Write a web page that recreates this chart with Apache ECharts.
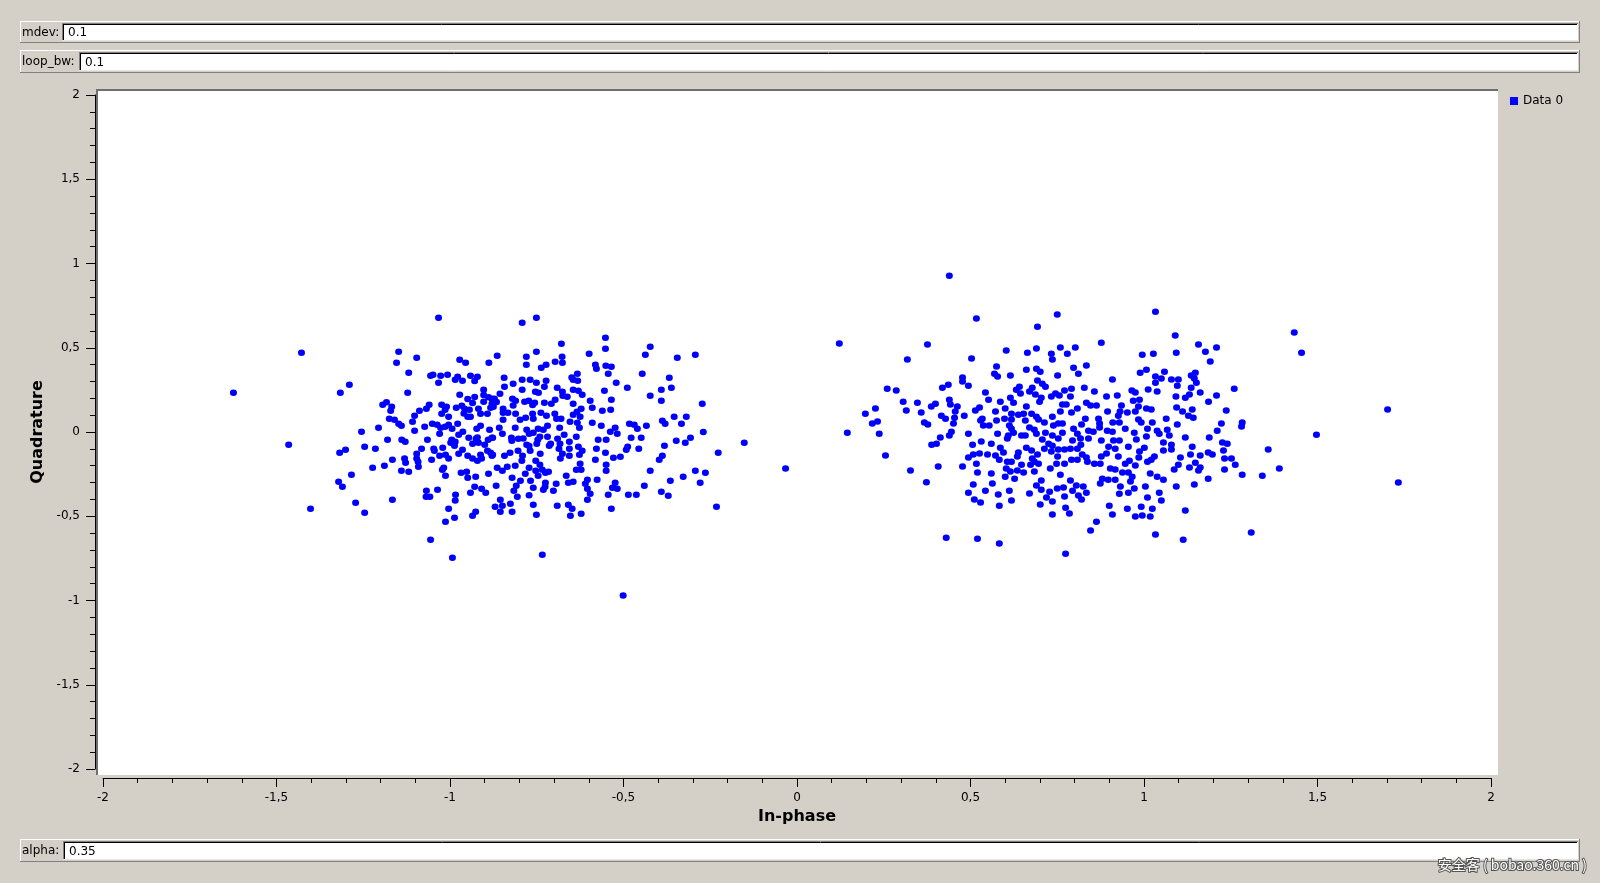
<!DOCTYPE html>
<html><head><meta charset="utf-8">
<script src="https://cdn.jsdelivr.net/npm/echarts@6/dist/echarts.min.js"></script>
<style>html,body{margin:0;padding:0;background:#d4d0c8;}#c{width:1600px;height:883px;}</style>
</head><body><div id="c"></div>
<script>
// ---- data (I = in-phase, Q = quadrature) ----
const seriesName = 'Data 0';
const xAxisTitle = 'In-phase';
const yAxisTitle = 'Quadrature';
const axisMin = -2, axisMax = 2, axisStep = 0.5;
const controlLabels = ['mdev:', 'loop_bw:', 'alpha:'];
const controlValues = ['0.1', '0.1', '0.35'];
const watermark = '安全客 ( bobao.360.cn )';

const leftOuter = [[-1.033,0.678],[-1.428,0.470],[-1.148,0.476],[-1.096,0.441],[-1.154,0.411],[-0.972,0.429],[-0.955,0.411],[-0.888,0.411],[-1.119,0.352],[-1.056,0.334],[-1.049,0.340],[-1.027,0.334],[-1.007,0.340],[-1.033,0.293],[-0.978,0.328],[-0.985,0.310],[-0.964,0.304],[-0.941,0.334],[-0.921,0.328],[-0.929,0.302],[-1.624,0.233],[-1.316,0.233],[-1.290,0.281],[-1.122,0.233],[-0.903,0.251],[-0.972,0.221],[-0.949,0.196],[-0.929,0.207],[-0.903,0.219],[-0.889,0.206],[-0.879,0.198],[-0.903,0.180],[-0.935,0.172],[-1.194,0.162],[-1.183,0.176],[-1.168,0.150],[-1.171,0.126],[-1.060,0.162],[-1.068,0.138],[-1.088,0.126],[-1.102,0.097],[-1.024,0.162],[-1.010,0.150],[-1.014,0.132],[-1.024,0.108],[-1.004,0.091],[-0.982,0.144],[-0.966,0.156],[-0.958,0.138],[-0.944,0.132],[-0.960,0.110],[-0.949,0.091],[-0.941,0.091],[-0.918,0.138],[-0.912,0.108],[-0.892,0.108],[-0.883,0.144],[-0.879,0.168],[-1.175,0.079],[-1.160,0.073],[-1.148,0.049],[-1.140,0.037],[-1.108,0.061],[-1.206,0.025],[-1.255,0.002],[-1.102,0.008],[-1.073,0.031],[-1.051,0.049],[-1.037,0.043],[-1.027,0.025],[-1.030,-0.010],[-1.014,0.031],[-1.004,0.043],[-0.994,0.019],[-0.978,0.049],[-0.963,0.002],[-0.975,-0.016],[-0.946,-0.034],[-0.923,0.019],[-0.912,0.037],[-0.886,0.014],[-0.925,-0.040],[-0.935,-0.070],[-0.918,-0.064],[-0.900,-0.075],[-0.890,-0.046],[-0.879,-0.034],[-1.465,-0.075],[-1.180,-0.046],[-1.139,-0.046],[-1.129,-0.058],[-1.065,-0.046],[-0.995,-0.046],[-0.998,-0.064],[-0.987,-0.081],[-0.985,-0.058],[-1.246,-0.087],[-1.215,-0.099],[-1.301,-0.105],[-1.318,-0.123],[-1.082,-0.099],[-1.047,-0.099],[-1.021,-0.093],[-1.045,-0.111],[-1.030,-0.141],[-1.013,-0.135],[-1.004,-0.158],[-0.975,-0.129],[-0.964,-0.105],[-0.949,-0.141],[-0.935,-0.158],[-0.921,-0.170],[-0.909,-0.158],[-0.912,-0.135],[-0.892,-0.111],[-0.879,-0.141],[-1.096,-0.129],[-1.096,-0.158],[-1.092,-0.176],[-1.131,-0.158],[-1.128,-0.182],[-1.091,-0.206],[-1.166,-0.164],[-1.189,-0.200],[-1.223,-0.212],[-1.053,-0.164],[-1.018,-0.212],[-1.022,-0.224],[-1.140,-0.230],[-1.119,-0.236],[-1.013,-0.259],[-0.968,-0.242],[-0.952,-0.236],[-0.949,-0.271],[-0.926,-0.265],[-0.889,-0.248],[-1.284,-0.254],[-1.321,-0.295],[-1.310,-0.325],[-1.272,-0.420],[-1.246,-0.479],[-1.402,-0.455],[-1.166,-0.402],[-1.068,-0.348],[-1.069,-0.384],[-1.058,-0.384],[-1.036,-0.342],[-0.984,-0.372],[-0.985,-0.406],[-1.004,-0.455],[-1.013,-0.532],[-0.987,-0.509],[-0.941,-0.360],[-0.929,-0.325],[-0.909,-0.337],[-0.897,-0.360],[-0.926,-0.473],[-0.935,-0.497],[-1.056,-0.639],[-0.993,-0.746],[-0.883,-0.123],[-0.921,-0.032]];

const leftInner = [[-0.751,0.678],[-0.792,0.649],[-0.552,0.559],[-0.552,0.494],[-0.679,0.524],[-0.751,0.476],[-0.780,0.447],[-0.780,0.399],[-0.864,0.453],[-0.677,0.447],[-0.697,0.417],[-0.676,0.411],[-0.723,0.399],[-0.737,0.381],[-0.599,0.465],[-0.581,0.399],[-0.578,0.376],[-0.551,0.393],[-0.535,0.387],[-0.544,0.346],[-0.423,0.506],[-0.437,0.459],[-0.345,0.441],[-0.293,0.459],[-0.446,0.346],[-0.368,0.322],[-0.362,0.263],[-0.391,0.251],[-0.423,0.215],[-0.391,0.186],[-0.273,0.168],[-0.489,0.263],[-0.521,0.292],[-0.555,0.245],[-0.535,0.192],[-0.537,0.132],[-0.561,0.126],[-0.844,0.322],[-0.818,0.287],[-0.792,0.310],[-0.769,0.310],[-0.751,0.292],[-0.723,0.304],[-0.728,0.269],[-0.843,0.269],[-0.792,0.251],[-0.754,0.239],[-0.745,0.233],[-0.691,0.263],[-0.676,0.239],[-0.649,0.324],[-0.633,0.346],[-0.645,0.310],[-0.632,0.304],[-0.645,0.251],[-0.630,0.245],[-0.619,0.221],[-0.662,0.209],[-0.675,0.215],[-0.697,0.192],[-0.856,0.227],[-0.872,0.198],[-0.866,0.178],[-0.875,0.150],[-0.847,0.138],[-0.820,0.198],[-0.811,0.186],[-0.785,0.180],[-0.818,0.158],[-0.756,0.174],[-0.762,0.160],[-0.728,0.174],[-0.708,0.168],[-0.645,0.168],[-0.596,0.186],[-0.590,0.144],[-0.622,0.138],[-0.634,0.120],[-0.645,0.103],[-0.625,0.091],[-0.654,0.061],[-0.633,0.055],[-0.627,0.025],[-0.590,0.055],[-0.564,0.037],[-0.538,0.002],[-0.524,0.025],[-0.518,-0.010],[-0.483,0.049],[-0.469,0.043],[-0.460,0.019],[-0.434,0.037],[-0.478,-0.034],[-0.449,-0.034],[-0.550,-0.046],[-0.573,-0.046],[-0.636,-0.028],[-0.671,-0.016],[-0.847,0.114],[-0.833,0.114],[-0.811,0.108],[-0.798,0.073],[-0.847,0.073],[-0.858,0.025],[-0.849,-0.010],[-0.877,-0.034],[-0.812,0.025],[-0.779,0.014],[-0.762,0.108],[-0.760,0.079],[-0.782,0.085],[-0.738,0.114],[-0.722,0.097],[-0.698,0.108],[-0.693,0.079],[-0.680,0.079],[-0.684,0.025],[-0.719,0.037],[-0.731,0.014],[-0.746,0.019],[-0.760,-0.004],[-0.741,-0.028],[-0.719,-0.028],[-0.772,-0.010],[-0.789,-0.038],[-0.803,-0.040],[-0.823,-0.034],[-0.822,-0.052],[-0.779,-0.075],[-0.772,-0.083],[-0.750,-0.070],[-0.747,-0.046],[-0.710,-0.070],[-0.714,-0.081],[-0.690,-0.040],[-0.683,-0.070],[-0.686,-0.099],[-0.656,-0.058],[-0.656,-0.099],[-0.630,-0.087],[-0.619,-0.111],[-0.627,-0.135],[-0.656,-0.141],[-0.676,-0.129],[-0.682,-0.158],[-0.740,-0.129],[-0.769,-0.111],[-0.804,-0.111],[-0.791,-0.141],[-0.793,-0.170],[-0.827,-0.123],[-0.843,-0.141],[-0.877,-0.135],[-0.864,-0.212],[-0.849,-0.230],[-0.835,-0.206],[-0.812,-0.200],[-0.783,-0.248],[-0.772,-0.212],[-0.753,-0.170],[-0.741,-0.194],[-0.753,-0.230],[-0.746,-0.259],[-0.734,-0.224],[-0.725,-0.242],[-0.716,-0.236],[-0.665,-0.259],[-0.625,-0.188],[-0.636,-0.224],[-0.622,-0.224],[-0.581,-0.164],[-0.578,-0.099],[-0.552,-0.123],[-0.550,-0.194],[-0.550,-0.230],[-0.529,-0.153],[-0.509,-0.147],[-0.492,-0.105],[-0.488,-0.087],[-0.456,-0.099],[-0.382,-0.081],[-0.388,-0.141],[-0.397,-0.164],[-0.423,-0.230],[-0.440,-0.319],[-0.365,-0.289],[-0.328,-0.265],[-0.293,-0.230],[-0.264,-0.242],[-0.279,-0.301],[-0.391,-0.354],[-0.371,-0.378],[-0.463,-0.372],[-0.486,-0.372],[-0.544,-0.372],[-0.524,-0.301],[-0.532,-0.331],[-0.518,-0.337],[-0.576,-0.283],[-0.604,-0.283],[-0.610,-0.307],[-0.604,-0.337],[-0.596,-0.366],[-0.604,-0.402],[-0.645,-0.295],[-0.659,-0.301],[-0.694,-0.307],[-0.725,-0.301],[-0.726,-0.325],[-0.731,-0.343],[-0.702,-0.348],[-0.760,-0.331],[-0.768,-0.289],[-0.797,-0.289],[-0.821,-0.271],[-0.809,-0.319],[-0.816,-0.348],[-0.806,-0.384],[-0.772,-0.376],[-0.867,-0.319],[-0.855,-0.402],[-0.870,-0.443],[-0.849,-0.437],[-0.855,-0.473],[-0.826,-0.426],[-0.821,-0.473],[-0.760,-0.432],[-0.751,-0.491],[-0.691,-0.437],[-0.659,-0.432],[-0.648,-0.455],[-0.622,-0.485],[-0.653,-0.497],[-0.535,-0.455],[-0.232,-0.443],[-0.734,-0.728],[-0.501,-0.971],[-0.227,-0.123],[-0.152,-0.064],[-0.270,0.000],[-0.307,-0.034],[-0.322,-0.064],[-0.348,-0.052],[-0.319,0.091],[-0.333,0.049],[-0.354,0.091],[-0.388,0.067],[-0.380,0.049],[-0.773,0.186]];

const middlePoints = [[-0.033,-0.216]];

const rightInner = [[0.439,0.928],[0.517,0.673],[0.750,0.697],[0.693,0.625],[0.122,0.525],[0.376,0.519],[0.877,0.530],[0.318,0.430],[0.503,0.436],[0.603,0.483],[0.664,0.471],[0.690,0.495],[0.733,0.465],[0.759,0.501],[0.779,0.465],[0.802,0.501],[0.736,0.430],[0.575,0.388],[0.569,0.346],[0.578,0.329],[0.615,0.335],[0.661,0.370],[0.690,0.376],[0.701,0.358],[0.693,0.305],[0.707,0.287],[0.716,0.269],[0.751,0.335],[0.797,0.382],[0.834,0.394],[0.811,0.346],[0.260,0.257],[0.286,0.246],[0.419,0.263],[0.436,0.281],[0.477,0.323],[0.477,0.299],[0.494,0.275],[0.226,0.139],[0.197,0.109],[0.217,0.050],[0.232,0.062],[0.237,-0.010],[0.145,-0.004],[0.255,-0.140],[0.306,0.180],[0.315,0.127],[0.347,0.174],[0.358,0.115],[0.367,0.056],[0.377,0.044],[0.387,0.151],[0.399,0.168],[0.416,0.097],[0.428,0.079],[0.439,0.192],[0.442,0.163],[0.456,0.121],[0.462,0.151],[0.454,0.085],[0.451,0.050],[0.445,0.002],[0.439,-0.021],[0.413,-0.033],[0.402,-0.069],[0.388,-0.075],[0.482,0.097],[0.494,-0.010],[0.514,0.127],[0.526,0.145],[0.543,0.234],[0.552,0.192],[0.586,0.180],[0.615,0.204],[0.624,0.174],[0.632,0.251],[0.641,0.269],[0.644,0.228],[0.678,0.263],[0.670,0.240],[0.687,0.222],[0.704,0.204],[0.699,0.180],[0.733,0.210],[0.745,0.228],[0.756,0.216],[0.771,0.246],[0.791,0.257],[0.788,0.210],[0.828,0.263],[0.857,0.240],[0.892,0.210],[0.765,0.163],[0.776,0.163],[0.808,0.139],[0.834,0.174],[0.846,0.157],[0.863,0.157],[0.791,0.115],[0.759,0.121],[0.736,0.091],[0.661,0.151],[0.600,0.139],[0.572,0.121],[0.598,0.079],[0.618,0.074],[0.618,0.109],[0.638,0.103],[0.653,0.109],[0.658,0.068],[0.676,0.109],[0.690,0.091],[0.696,0.074],[0.713,0.056],[0.534,0.079],[0.529,0.068],[0.537,0.038],[0.554,0.038],[0.575,0.068],[0.578,-0.010],[0.612,0.038],[0.618,0.020],[0.624,-0.004],[0.609,-0.021],[0.606,-0.039],[0.647,-0.021],[0.658,-0.021],[0.670,0.026],[0.684,0.014],[0.690,-0.010],[0.716,-0.004],[0.739,0.038],[0.753,0.050],[0.765,0.050],[0.765,-0.004],[0.736,-0.021],[0.753,-0.039],[0.797,0.020],[0.808,-0.010],[0.820,0.044],[0.831,0.079],[0.840,0.008],[0.854,0.002],[0.869,0.079],[0.872,0.050],[0.872,0.026],[0.895,0.121],[0.894,0.008],[0.877,-0.051],[0.840,-0.039],[0.817,-0.039],[0.794,-0.051],[0.818,-0.075],[0.808,-0.099],[0.788,-0.099],[0.771,-0.104],[0.753,-0.104],[0.733,-0.116],[0.736,-0.081],[0.725,-0.069],[0.707,-0.045],[0.751,-0.146],[0.748,-0.188],[0.771,-0.188],[0.791,-0.164],[0.808,-0.164],[0.822,-0.134],[0.834,-0.152],[0.837,-0.176],[0.857,-0.188],[0.874,-0.188],[0.877,-0.146],[0.892,-0.128],[0.898,-0.087],[0.903,-0.217],[0.880,-0.277],[0.874,-0.306],[0.897,-0.283],[0.730,-0.217],[0.759,-0.253],[0.788,-0.288],[0.704,-0.288],[0.690,-0.318],[0.704,-0.342],[0.728,-0.354],[0.750,-0.336],[0.768,-0.330],[0.794,-0.348],[0.805,-0.318],[0.825,-0.324],[0.834,-0.360],[0.811,-0.377],[0.820,-0.401],[0.771,-0.383],[0.736,-0.413],[0.719,-0.389],[0.701,-0.431],[0.736,-0.490],[0.774,-0.449],[0.785,-0.484],[0.900,-0.437],[0.863,-0.532],[0.846,-0.585],[0.774,-0.722],[0.430,-0.627],[0.520,-0.633],[0.583,-0.662],[0.373,-0.298],[0.327,-0.229],[0.407,-0.205],[0.477,-0.205],[0.494,-0.152],[0.508,-0.134],[0.526,-0.128],[0.517,-0.188],[0.520,-0.241],[0.508,-0.312],[0.494,-0.360],[0.511,-0.401],[0.529,-0.419],[0.543,-0.348],[0.563,-0.306],[0.560,-0.247],[0.580,-0.371],[0.583,-0.437],[0.612,-0.348],[0.618,-0.407],[0.670,-0.365],[0.627,-0.277],[0.600,-0.265],[0.603,-0.217],[0.615,-0.235],[0.635,-0.229],[0.653,-0.241],[0.684,-0.235],[0.647,-0.194],[0.673,-0.194],[0.684,-0.176],[0.696,-0.188],[0.693,-0.134],[0.678,-0.158],[0.676,-0.110],[0.661,-0.093],[0.638,-0.122],[0.635,-0.146],[0.618,-0.176],[0.606,-0.176],[0.595,-0.122],[0.583,-0.164],[0.572,-0.140],[0.549,-0.134],[0.586,-0.093],[0.560,-0.069],[0.531,-0.057],[0.506,-0.075],[0.713,-0.099]];

const rightOuter = [[1.033,0.714],[1.090,0.572],[1.433,0.590],[1.454,0.471],[1.157,0.519],[1.177,0.477],[1.209,0.501],[1.191,0.418],[0.995,0.459],[1.027,0.465],[1.093,0.471],[1.007,0.370],[0.989,0.352],[1.059,0.358],[1.033,0.329],[1.050,0.317],[1.079,0.311],[1.099,0.311],[1.033,0.293],[1.136,0.335],[1.148,0.352],[1.145,0.317],[1.151,0.293],[1.096,0.275],[1.136,0.263],[0.909,0.311],[1.012,0.252],[1.038,0.240],[0.965,0.246],[0.975,0.234],[0.923,0.216],[0.969,0.186],[0.987,0.192],[1.092,0.210],[1.119,0.204],[1.131,0.222],[1.162,0.234],[1.209,0.216],[1.260,0.257],[1.186,0.180],[1.237,0.127],[0.935,0.157],[0.984,0.151],[1.007,0.139],[1.021,0.133],[1.094,0.145],[1.111,0.121],[1.139,0.133],[1.128,0.097],[1.142,0.085],[1.064,0.079],[0.931,0.121],[0.952,0.115],[0.975,0.121],[0.926,0.097],[0.984,0.074],[0.992,0.056],[1.024,0.056],[0.910,0.056],[0.929,0.056],[0.946,0.020],[0.909,0.002],[0.972,-0.004],[1.010,0.020],[1.038,0.008],[1.044,-0.010],[1.067,0.014],[1.073,-0.021],[1.096,0.044],[1.119,-0.033],[1.188,-0.033],[1.211,0.008],[1.223,0.050],[1.283,0.056],[1.281,0.032],[1.702,0.133],[1.497,-0.016],[1.358,-0.104],[1.390,-0.217],[1.341,-0.259],[1.309,-0.597],[1.733,-0.300],[0.912,-0.051],[0.929,-0.051],[0.917,-0.099],[0.955,-0.087],[0.978,-0.045],[1.007,-0.027],[1.001,-0.093],[0.987,-0.116],[1.056,-0.063],[1.056,-0.110],[1.079,-0.075],[1.079,-0.104],[1.139,-0.087],[1.134,-0.134],[1.162,-0.140],[1.185,-0.122],[1.197,-0.134],[1.226,-0.063],[1.240,-0.069],[1.229,-0.110],[1.232,-0.158],[1.252,-0.158],[1.263,-0.194],[1.232,-0.223],[1.283,-0.253],[1.185,-0.277],[1.145,-0.312],[1.157,-0.229],[1.162,-0.211],[1.131,-0.211],[1.148,-0.182],[1.099,-0.194],[1.087,-0.223],[1.105,-0.152],[1.030,-0.146],[1.021,-0.164],[1.010,-0.176],[0.985,-0.152],[0.975,-0.199],[0.958,-0.170],[0.946,-0.188],[0.926,-0.146],[0.917,-0.223],[0.938,-0.241],[0.955,-0.241],[0.966,-0.265],[0.917,-0.283],[0.961,-0.294],[1.018,-0.247],[1.038,-0.265],[1.056,-0.283],[1.093,-0.324],[1.004,-0.324],[0.972,-0.336],[0.932,-0.324],[0.929,-0.366],[0.955,-0.360],[1.044,-0.360],[1.010,-0.389],[1.050,-0.407],[0.992,-0.443],[0.952,-0.455],[1.024,-0.455],[0.995,-0.496],[0.975,-0.502],[1.018,-0.502],[0.909,-0.490],[1.119,-0.466],[1.033,-0.609],[1.113,-0.639]];

// ---- drawing ----
const FONT = '"DejaVu Sans", sans-serif';
const BG = '#d4d0c8';
const chart = echarts.init(document.getElementById('c'), null, {renderer: 'canvas'});

function entryRow(y0, y1, boxX, label, value) {
  const R = 1580, BR = 1578;
  const h = y1 - y0;
  return [
    {type:'line', silent:true, shape:{x1:20, y1:y0+0.5, x2:R, y2:y0+0.5}, style:{stroke:'#ffffff', lineWidth:1}},
    {type:'line', silent:true, shape:{x1:20.5, y1:y0, x2:20.5, y2:y1}, style:{stroke:'#ffffff', lineWidth:1}},
    {type:'line', silent:true, shape:{x1:20, y1:y1-0.5, x2:R, y2:y1-0.5}, style:{stroke:'#808080', lineWidth:1}},
    {type:'line', silent:true, shape:{x1:R-0.5, y1:y0, x2:R-0.5, y2:y1}, style:{stroke:'#808080', lineWidth:1}},
    {type:'rect', silent:true, shape:{x:boxX, y:y0+2, width:BR-boxX, height:h-4}, style:{fill:'#ffffff'}},
    {type:'line', silent:true, shape:{x1:boxX, y1:y0+2.5, x2:BR, y2:y0+2.5}, style:{stroke:'#808080', lineWidth:1}},
    {type:'line', silent:true, shape:{x1:boxX+0.5, y1:y0+2, x2:boxX+0.5, y2:y1-2}, style:{stroke:'#808080', lineWidth:1}},
    {type:'line', silent:true, shape:{x1:boxX+1, y1:y0+3.5, x2:BR-1, y2:y0+3.5}, style:{stroke:'#000000', lineWidth:1}},
    {type:'line', silent:true, shape:{x1:boxX+1.5, y1:y0+3, x2:boxX+1.5, y2:y1-3}, style:{stroke:'#000000', lineWidth:1}},
    {type:'line', silent:true, shape:{x1:boxX, y1:y1-2.5, x2:BR, y2:y1-2.5}, style:{stroke:'#e8e6e2', lineWidth:1}},
    {type:'text', silent:true, x:22, y:(y0+y1)/2 + 0.5, style:{text:label, font:'12px ' + FONT, fill:'#000', verticalAlign:'middle'}},
    {type:'text', silent:true, x:boxX+6, y:(y0+y1)/2 + 1, style:{text:value, font:'12px ' + FONT, fill:'#000', verticalAlign:'middle'}}
  ];
}

const graphics = [].concat(
  entryRow(21, 43, 62, controlLabels[0], controlValues[0]),
  entryRow(50, 73, 79, controlLabels[1], controlValues[1]),
  entryRow(839, 862, 63, controlLabels[2], controlValues[2]),
  [
    {type:'rect', silent:true, z:-5, shape:{x:96, y:89, width:1402, height:686}, style:{fill:'#ffffff'}},
    {type:'rect', silent:true, z:-4, shape:{x:96, y:89, width:1402, height:2}, style:{fill:'#6e6e6e'}},
    {type:'rect', silent:true, z:-4, shape:{x:96, y:89, width:2, height:686}, style:{fill:'#6e6e6e'}},
    {type:'text', silent:true, z:100, x:1587, y:865, style:{text:watermark, font:'14px "Noto Sans CJK SC", sans-serif', fill:'#ffffff', align:'right', verticalAlign:'middle', stroke:'#555555', lineWidth:2}}
  ]
);

const fmt = v => String(v).replace('.', ',');

const option = {
  backgroundColor: BG,
  animation: false,
  grid: {left:103, right:109, top:95, bottom:114, show:false},
  legend: {
    data: [{name: seriesName, icon: 'rect'}],
    left: 1510, top: 95, padding: 0, itemWidth: 8, itemHeight: 8, itemGap: 0,
    selectedMode: false,
    textStyle: {fontFamily: FONT, fontSize: 12, color: '#000'}
  },
  xAxis: {
    type:'value', min:axisMin, max:axisMax, interval:axisStep, offset:9,
    axisLine:{show:true, onZero:false, lineStyle:{color:'#000', width:1}},
    axisTick:{show:true, length:9, lineStyle:{color:'#000'}},
    minorTick:{show:true, splitNumber:5, length:5, lineStyle:{color:'#000'}},
    splitLine:{show:false}, minorSplitLine:{show:false},
    axisLabel:{formatter:fmt, fontFamily:FONT, fontSize:12, color:'#000', margin:14, showMinLabel:true, showMaxLabel:true},
    name:xAxisTitle, nameLocation:'middle', nameGap:28,
    nameTextStyle:{fontFamily:FONT, fontWeight:'bold', fontSize:16, color:'#000'}
  },
  yAxis: {
    type:'value', min:axisMin, max:axisMax, interval:axisStep, offset:8,
    axisLine:{show:true, onZero:false, lineStyle:{color:'#000', width:1}},
    axisTick:{show:true, length:9, lineStyle:{color:'#000'}},
    minorTick:{show:true, splitNumber:5, length:5, lineStyle:{color:'#000'}},
    splitLine:{show:false}, minorSplitLine:{show:false},
    axisLabel:{formatter:fmt, fontFamily:FONT, fontSize:12, color:'#000', margin:15, showMinLabel:true, showMaxLabel:true},
    name:yAxisTitle, nameLocation:'middle', nameRotate:90, nameGap:48,
    nameTextStyle:{fontFamily:FONT, fontWeight:'bold', fontSize:16, color:'#000'}
  },
  series: [{
    name: seriesName, type: 'scatter',
    data: [].concat(leftOuter, leftInner, middlePoints, rightInner, rightOuter),
    symbol: 'circle', symbolSize: [7, 6.5],
    itemStyle: {color: '#0000ff', opacity: 1},
    emphasis: {disabled: true}, silent: true
  }],
  graphic: {elements: graphics}
};
chart.setOption(option);
</script>
</body></html>
